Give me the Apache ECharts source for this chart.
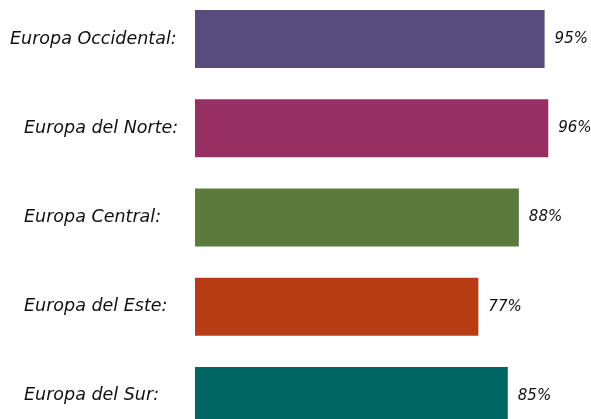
<!DOCTYPE html>
<html>
<head>
<meta charset="utf-8">
<script src="https://cdn.jsdelivr.net/npm/echarts@6/dist/echarts.min.js"></script>
<style>
  html, body { margin: 0; padding: 0; background: #ffffff; }
  #chart { width: 591px; height: 419px; }
</style>
</head>
<body>
<div id="chart"></div>
<script>
// Regions, their shares (%) and bar colours, top to bottom
const regions = ['Europa Occidental:', 'Europa del Norte:', 'Europa Central:', 'Europa del Este:', 'Europa del Sur:'];
const shares = [95, 96, 88, 77, 85];
const colors = ['#574c7d', '#982f63', '#5b7b3c', '#b83c12', '#006663'];

const FONT = '"DejaVu Sans", "Noto Sans", sans-serif';

const chart = echarts.init(document.getElementById('chart'));
chart.setOption({
  backgroundColor: '#ffffff',
  animation: false,
  grid: { left: 195, right: 28, top: -5.5, bottom: -21.5, containLabel: false, outerBoundsMode: 'none' },
  xAxis: {
    type: 'value', min: 0, max: 100,
    show: false
  },
  yAxis: {
    type: 'category',
    inverse: true,
    data: regions,
    axisLine: { show: false },
    axisTick: { show: false },
    axisLabel: {
      align: 'left',
      margin: 185,
      formatter: (v, i) => (i === 0 ? '{a|' + v + '}' : '{b|' + v + '}'),
      rich: {
        a: { fontFamily: FONT, fontStyle: 'italic', fontSize: 17.5, color: '#111111' },
        b: { fontFamily: FONT, fontStyle: 'italic', fontSize: 17.5, color: '#111111', padding: [0, 0, 0, 14] }
      }
    }
  },
  series: [{
    type: 'bar',
    barCategoryGap: '35%',
    data: shares.map((v, i) => ({ value: v, itemStyle: { color: colors[i] } })),
    label: {
      show: true,
      position: 'right',
      distance: 10,
      formatter: '{c}%',
      fontFamily: FONT,
      fontStyle: 'italic',
      fontSize: 15,
      color: '#111111'
    }
  }]
});
</script>
</body>
</html>
